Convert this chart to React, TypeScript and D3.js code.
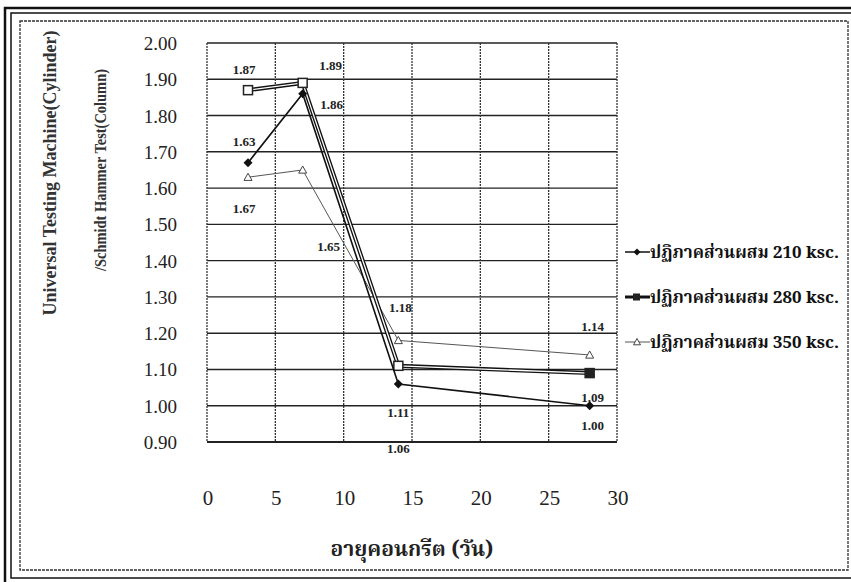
import React from "react";
import * as d3 from "d3";

const days = [3, 7, 14, 28];
const s210 = [1.67, 1.86, 1.06, 1.0];
const s280 = [1.87, 1.89, 1.11, 1.09];
const s350 = [1.63, 1.65, 1.18, 1.14];
const seriesNames = [
  "ปฏิภาคส่วนผสม 210 ksc.",
  "ปฏิภาคส่วนผสม 280 ksc.",
  "ปฏิภาคส่วนผสม 350 ksc.",
];
const yTicks = [0.9, 1.0, 1.1, 1.2, 1.3, 1.4, 1.5, 1.6, 1.7, 1.8, 1.9, 2.0];
const xTicks = [0, 5, 10, 15, 20, 25, 30];
const yTitle1 = "Universal Testing Machine(Cylinder)";
const yTitle2 = "/Schmidt Hammer Test(Column)";
const xTitle = "อายุคอนกรีต (วัน)";

// label placement: [series index, point index, dx, dy]
const labelPlacement: [number, number, number, number][] = [
  [1, 0, -4, -20],
  [1, 1, 28, -17],
  [0, 1, 29, 11],
  [2, 0, -4, -35],
  [0, 0, -4, 46],
  [2, 1, 26, 77],
  [2, 2, 2, -32],
  [2, 3, 3, -28],
  [1, 2, 0, 47],
  [0, 2, 0, 65],
  [1, 3, 3, 25],
  [0, 3, 3, 20],
];

const W = 851;
const H = 582;
const serif = "Liberation Serif, Times New Roman, serif";
const thai = "Noto Serif Thai, Norasi, Noto Sans Thai, Loma, serif";

export default function App() {
  const x = d3.scaleLinear().domain([0, 30]).range([207, 617]);
  const y = d3.scaleLinear().domain([0.9, 2.0]).range([442, 43]);
  const all = [s210, s280, s350];
  const line = d3
    .line<number>()
    .x((_, i) => x(days[i]))
    .y((v) => y(v));

  const diamond = (cx: number, cy: number, r = 4.5) =>
    `M${cx},${cy - r}L${cx + r},${cy}L${cx},${cy + r}L${cx - r},${cy}Z`;
  const tri = (cx: number, cy: number, r = 4) =>
    `M${cx},${cy - r}L${cx + r},${cy + r * 0.8}L${cx - r},${cy + r * 0.8}Z`;

  return (
    <svg width={W} height={H} style={{ position: "absolute", left: 0, top: 0, background: "#fff" }}>
      <rect x={0} y={0} width={W} height={H} fill="#fff" />
      {/* outer frames */}
      <rect x={5} y={8} width={W + 20} height={H - 5} fill="none" stroke="#111" strokeWidth={2.5} />
      <rect x={11} y={13} width={W + 20} height={H - 17} fill="none" stroke="#111" strokeWidth={1.5} />
      <rect x={20} y={21} width={828} height={549} fill="none" stroke="#333" strokeWidth={1.3} strokeDasharray="3,1" />

      {/* grid */}
      {yTicks.map((t) => (
        <line key={"h" + t} x1={x(0)} x2={x(30)} y1={y(t)} y2={y(t)} stroke="#222" strokeWidth={t === 0.9 ? 2 : 1.4} />
      ))}
      {xTicks.map((t) => (
        <line key={"v" + t} x1={x(t)} x2={x(t)} y1={y(2.0)} y2={y(0.9)} stroke="#333" strokeWidth={1.3} strokeDasharray="2,1" />
      ))}

      {/* y tick labels */}
      {yTicks.map((t) => (
        <text key={"yt" + t} x={177} y={y(t) + 7} textAnchor="end" fontFamily={serif} fontSize={19} fill="#222">
          {t.toFixed(2)}
        </text>
      ))}
      {/* x tick labels */}
      {xTicks.map((t) => (
        <text key={"xt" + t} x={x(t) + 1} y={505} textAnchor="middle" fontFamily={serif} fontSize={21} fill="#222">
          {t}
        </text>
      ))}

      {/* axis titles */}
      <text transform={`translate(56,173) rotate(-90)`} textAnchor="middle" fontFamily={serif} fontWeight="bold" fontSize={18} fill="#333">
        {yTitle1}
      </text>
      <text
        transform={`translate(106,170) rotate(-90)`}
        textAnchor="middle"
        fontFamily={serif}
        fontWeight="bold"
        fontSize={16}
        textLength={202}
        lengthAdjust="spacingAndGlyphs"
        fill="#333"
      >
        {yTitle2}
      </text>
      <text x={412} y={556} textAnchor="middle" style={{ fontFamily: thai }} fontWeight="bold" fontSize={21} fill="#222">
        {xTitle}
      </text>

      {/* series 350 */}
      <path d={line(s350) || ""} fill="none" stroke="#555" strokeWidth={1} />
      {s350.map((v, i) => (
        <path key={"t" + i} d={tri(x(days[i]), y(v))} fill="#fff" stroke="#444" strokeWidth={1} />
      ))}
      {/* series 280 (double line) */}
      <path d={line(s280) || ""} fill="none" stroke="#111" strokeWidth={4} />
      <path d={line(s280) || ""} fill="none" stroke="#fff" strokeWidth={1.3} />
      {s280.map((v, i) => (
        <rect key={"s" + i} x={x(days[i]) - 4.5} y={y(v) - 4.5} width={9} height={9} fill={i === 3 ? "#222" : "#fff"} stroke="#222" strokeWidth={1.5} />
      ))}
      {/* series 210 */}
      <path d={line(s210) || ""} fill="none" stroke="#111" strokeWidth={1.6} />
      {s210.map((v, i) => (
        <path key={"d" + i} d={diamond(x(days[i]), y(v))} fill="#111" />
      ))}

      {/* data labels */}
      {labelPlacement.map(([si, pi, dx, dy], k) => (
        <text
          key={"lb" + k}
          x={x(days[pi]) + dx}
          y={y(all[si][pi]) + dy + 4}
          textAnchor="middle"
          fontFamily={serif}
          fontWeight="bold"
          fontSize={13}
          fill="#222"
        >
          {all[si][pi].toFixed(2)}
        </text>
      ))}

      {/* legend */}
      {seriesNames.map((name, i) => {
        const ly = 252 + i * 45;
        return (
          <g key={"lg" + i}>
            {i === 1 ? (
              <>
                <line x1={625} x2={650} y1={ly} y2={ly} stroke="#111" strokeWidth={3} />
                <rect x={633} y={ly - 3.5} width={7} height={7} fill="#222" />
              </>
            ) : i === 0 ? (
              <>
                <line x1={625} x2={650} y1={ly} y2={ly} stroke="#111" strokeWidth={1.5} />
                <path d={diamond(637, ly, 3.5)} fill="#111" />
              </>
            ) : (
              <>
                <line x1={625} x2={650} y1={ly} y2={ly} stroke="#555" strokeWidth={1} />
                <path d={tri(637, ly, 3.5)} fill="#fff" stroke="#444" />
              </>
            )}
            <text x={650} y={ly + 6} style={{ fontFamily: thai }} fontWeight="bold" fontSize={17} fill="#111">
              {name}
            </text>
          </g>
        );
      })}
    </svg>
  );
}
